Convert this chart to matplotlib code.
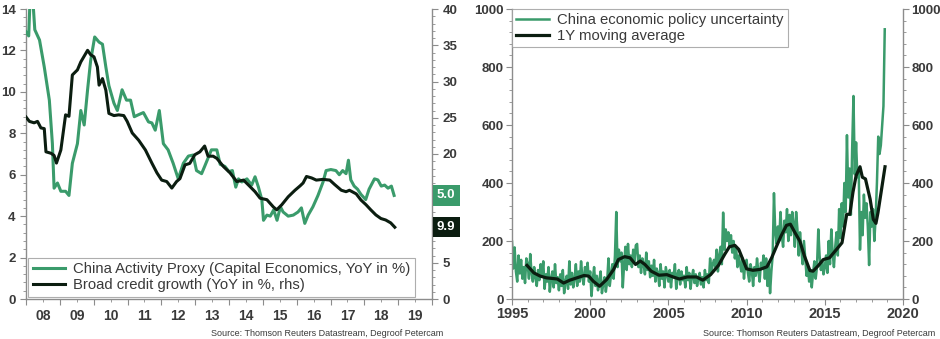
import numpy as np
import matplotlib
matplotlib.use("Agg")
import matplotlib.pyplot as plt
from matplotlib.ticker import MultipleLocator, FixedLocator, NullFormatter
import matplotlib.transforms as mtransforms

plt.rcParams['font.family'] = ['Liberation Sans', 'DejaVu Sans']

GREEN = '#3a9b6b'
DARK = '#0b1d10'
GREY = '#8c8c8c'
TXT = '#3a3a3a'

# ---- left panel: China activity proxy (lhs) vs broad credit growth (rhs) ----
proxy_t = [2008.0, 2008.08, 2008.12, 2008.2, 2008.26, 2008.4, 2008.54, 2008.69, 2008.78, 2008.83,
           2008.93, 2009.03, 2009.17, 2009.27, 2009.37, 2009.52, 2009.62, 2009.72, 2009.82, 2009.91,
           2010.03, 2010.16, 2010.26, 2010.36, 2010.45, 2010.6, 2010.7, 2010.84, 2010.97, 2011.09,
           2011.2, 2011.33, 2011.47, 2011.62, 2011.72, 2011.82, 2011.94, 2012.06, 2012.2, 2012.35,
           2012.5, 2012.65, 2012.8, 2012.94, 2013.04, 2013.19, 2013.28, 2013.48, 2013.64, 2013.74,
           2013.88, 2014.0, 2014.1, 2014.2, 2014.28, 2014.38, 2014.53, 2014.67, 2014.77, 2014.87,
           2014.97, 2015.02, 2015.12, 2015.22, 2015.32, 2015.42, 2015.52, 2015.6, 2015.75, 2015.9,
           2016.04, 2016.14, 2016.24, 2016.34, 2016.48, 2016.63, 2016.78, 2016.87, 2017.01, 2017.16,
           2017.26, 2017.36, 2017.46, 2017.53, 2017.6, 2017.7, 2017.8, 2017.9, 2018.04, 2018.14,
           2018.3, 2018.4, 2018.5, 2018.6, 2018.7, 2018.8, 2018.88]
proxy_v = [12.9, 12.7, 14.5, 14.5, 13.0, 12.5, 11.2, 9.6, 7.5, 5.35,
           5.6, 5.2, 5.2, 5.0, 6.55, 7.5, 9.1, 8.4, 10.1, 11.5,
           12.65, 12.4, 12.3, 11.2, 10.3, 9.45, 9.1, 10.1, 9.6, 9.6,
           8.8, 8.9, 9.0, 8.55, 8.5, 8.15, 9.1, 7.5, 7.2, 6.55,
           5.8, 6.55, 6.9, 6.95, 6.2, 6.05, 6.4, 7.2, 7.2, 6.5,
           6.4, 6.15, 6.2, 5.4, 5.8, 5.65, 5.8, 5.5, 5.9, 5.4,
           4.8, 3.8, 4.05, 4.0, 4.3, 3.8, 4.45, 4.2, 4.0, 4.05,
           4.2, 4.4, 3.65, 4.05, 4.45, 5.0, 5.65, 6.2, 6.25, 6.2,
           6.0, 6.2, 6.05, 6.7, 5.75, 5.45, 5.3, 5.05, 4.8, 5.3,
           5.8, 5.75, 5.45, 5.5, 5.35, 5.45, 5.0]

credit_t = [2008.0, 2008.1, 2008.24, 2008.34, 2008.44, 2008.54, 2008.59, 2008.74, 2008.83, 2008.9,
            2009.03, 2009.17, 2009.27, 2009.37, 2009.52, 2009.62, 2009.72, 2009.82, 2009.91, 2010.01,
            2010.11, 2010.16, 2010.26, 2010.36, 2010.45, 2010.6, 2010.74, 2010.89, 2010.99, 2011.14,
            2011.33, 2011.53, 2011.72, 2011.87, 2012.01, 2012.16, 2012.31, 2012.45, 2012.55, 2012.7,
            2012.84, 2012.99, 2013.14, 2013.28, 2013.38, 2013.53, 2013.64, 2013.84, 2014.03, 2014.23,
            2014.43, 2014.58, 2014.77, 2014.92, 2015.12, 2015.31, 2015.41, 2015.56, 2015.75, 2015.95,
            2016.1, 2016.19, 2016.29, 2016.44, 2016.58, 2016.78, 2016.98, 2017.12, 2017.32, 2017.46,
            2017.56, 2017.76, 2017.9, 2018.05, 2018.19, 2018.34, 2018.49, 2018.63, 2018.78, 2018.9]
credit_v = [25.1, 24.5, 24.3, 24.5, 23.6, 23.5, 20.3, 20.1, 19.8, 18.75,
            20.55, 25.4, 25.2, 30.9, 31.6, 32.7, 33.5, 34.3, 33.7, 33.4,
            32.0, 29.5, 30.4, 28.8, 25.6, 25.3, 25.4, 25.3, 24.5, 22.9,
            21.9, 20.55, 18.75, 17.4, 16.4, 16.2, 15.3, 16.2, 16.6, 18.5,
            18.7, 19.9, 20.3, 21.1, 19.7, 19.7, 19.4, 18.25, 17.4, 16.2,
            16.4, 15.7, 14.8, 13.9, 13.7, 12.7, 12.3, 13.0, 14.1, 15.0,
            15.6, 16.0, 16.9, 16.7, 16.4, 16.5, 16.4, 15.8, 15.0, 14.8,
            15.0, 14.5, 13.65, 13.0, 12.3, 11.6, 11.1, 10.9, 10.5, 9.9]

year_labels = ['08', '09', '10', '11', '12', '13', '14', '15', '16', '17', '18', '19']

# ---- right panel: China EPU index, monthly Jan 1995 - Nov 2018 ----
epu = [
    198, 105, 178, 95, 60, 150, 88, 135, 70, 110, 55, 140,      # 1995
    120, 70, 155, 90, 60, 110, 75, 45, 100, 65, 120, 80,        # 1996
    130, 35, 85, 60, 110, 25, 70, 95, 40, 120, 55, 75,          # 1997
    30, 85, 45, 100, 20, 60, 80, 35, 130, 50, 90, 40,           # 1998
    70, 120, 45, 95, 60, 130, 75, 50, 110, 85, 125, 60,         # 1999
    95, 10, 70, 110, 45, 80, 30, 65, 95, 20, 50, 75,            # 2000
    25, 60, 140, 45, 85, 120, 70, 150, 300, 110, 170, 130,      # 2001
    160, 40, 120, 180, 100, 190, 120, 150, 110, 170, 130, 185,  # 2002
    190, 110, 150, 90, 140, 120, 85, 160, 100, 130, 75, 115,    # 2003
    80, 135, 60, 105, 90, 45, 120, 70, 95, 40, 110, 85,         # 2004
    60, 100, 40, 90, 75, 120, 35, 85, 100, 50, 95, 65,          # 2005
    80, 40, 110, 65, 90, 35, 75, 100, 55, 85, 45, 70,           # 2006
    90, 50, 75, 40, 100, 65, 85, 55, 140, 90, 120, 135,         # 2007
    110, 170, 95, 150, 180, 120, 298, 170, 240, 200, 230, 180,  # 2008
    220, 160, 200, 140, 175, 110, 150, 120, 95, 140, 70, 125,   # 2009
    135, 90, 60, 120, 100, 45, 110, 80, 140, 95, 60, 125,       # 2010
    105, 150, 70, 140, 45, 120, 20, 95, 150, 365, 230, 190,     # 2011
    250, 200, 300, 220, 180, 270, 230, 310, 200, 290, 220, 300, # 2012
    260, 180, 300, 240, 150, 230, 170, 120, 200, 140, 80, 110,  # 2013
    60, 100, 40, 90, 130, 70, 110, 240, 150, 100, 130, 85,      # 2014
    110, 150, 90, 200, 120, 240, 160, 110, 180, 230, 150, 310,  # 2015
    210, 330, 250, 400, 300, 565, 350, 450, 290, 520, 700, 430, # 2016
    540, 420, 450, 170, 300, 220, 360, 280, 330, 250, 117, 300, # 2017
    250, 310, 200, 280, 400, 560, 500, 530, 600, 665, 930,      # 2018
]

ma_t = [1995.96, 1996.4, 1996.8, 1997.2, 1997.9, 1998.3, 1998.7, 1999.15, 1999.6, 1999.9,
        2000.2, 2000.6, 2001.05, 2001.5, 2001.8, 2002.2, 2002.55, 2002.9, 2003.2, 2003.5,
        2003.9, 2004.4, 2004.9, 2005.3, 2005.7, 2006.2, 2006.8, 2007.2, 2007.7, 2008.2,
        2008.6, 2008.9, 2009.25, 2009.5, 2009.8, 2010.0, 2010.4, 2010.85, 2011.3, 2011.6,
        2011.9, 2012.2, 2012.55, 2012.8, 2013.1, 2013.4, 2013.7, 2014.05, 2014.25, 2014.6,
        2014.9, 2015.3, 2015.75, 2016.1, 2016.4, 2016.6, 2016.8, 2017.0, 2017.25, 2017.4,
        2017.6, 2017.9, 2018.1, 2018.27, 2018.4, 2018.6, 2018.85]
ma_v = [116, 90, 79, 73, 69, 55, 65, 73, 81, 79,
        61, 44, 67, 102, 136, 146, 142, 119, 131, 119,
        96, 82, 84, 76, 69, 76, 76, 65, 84, 116,
        154, 180, 185, 171, 131, 104, 99, 102, 111, 142,
        180, 217, 254, 258, 228, 200, 148, 98, 96, 116,
        136, 142, 171, 194, 292, 292, 368, 425, 456, 420,
        414, 344, 275, 261, 298, 368, 456]

fig = plt.figure(figsize=(9.4, 3.39), dpi=100)


def style_axis(ax):
    ax.spines['top'].set_visible(False)
    for s in ('left', 'right', 'bottom'):
        ax.spines[s].set_color(GREY)
        ax.spines[s].set_linewidth(1.0)
    ax.tick_params(which='both', colors=GREY, labelcolor=TXT, direction='out')
    ax.tick_params(which='major', length=4, labelsize=9.5)
    ax.tick_params(which='minor', length=2)
    for lab in ax.get_xticklabels() + ax.get_yticklabels():
        lab.set_fontweight('bold')


# left panel
ax1 = fig.add_axes([26 / 940, 1 - 299 / 339, 406 / 940, 290 / 339])
ax1b = ax1.twinx()
l1, = ax1.plot(proxy_t, proxy_v, color=GREEN, lw=2.2, zorder=3)
l2, = ax1b.plot(credit_t, credit_v, color=DARK, lw=2.2, zorder=3)
ax1.set_xlim(2008, 2020)
ax1.set_ylim(0, 14)
ax1b.set_ylim(0, 40)
ax1.yaxis.set_major_locator(MultipleLocator(2))
ax1.yaxis.set_minor_locator(MultipleLocator(0.4))
ax1b.yaxis.set_major_locator(MultipleLocator(5))
ax1b.yaxis.set_minor_locator(MultipleLocator(1))
ax1.xaxis.set_major_locator(MultipleLocator(1))
ax1.xaxis.set_major_formatter(NullFormatter())
ax1.xaxis.set_minor_locator(FixedLocator(np.arange(2008.5, 2020, 1)))
ax1.set_xticklabels(year_labels, minor=True)
ax1.tick_params(axis='x', which='minor', length=0, pad=5)
for a in (ax1, ax1b):
    style_axis(a)
ax1b.spines['left'].set_visible(False)
ax1b.spines['bottom'].set_visible(False)
ax1.spines['right'].set_visible(False)
for lab in ax1.get_xticklabels(minor=True):
    lab.set_fontweight('bold')
    lab.set_fontsize(10)

leg1 = ax1b.legend([l1, l2], ['China Activity Proxy (Capital Economics, YoY in %)',
                               'Broad credit growth (YoY in %, rhs)'],
                   loc='lower left', bbox_to_anchor=(0.0, 0.0), borderaxespad=0.15,
                   fontsize=10.7, frameon=True, fancybox=False, handlelength=2.2,
                   handletextpad=0.5, labelspacing=0.15, borderpad=0.3)
leg1.get_frame().set_edgecolor('#9a9a9a')
leg1.get_frame().set_linewidth(0.8)
for t in leg1.get_texts():
    t.set_color(TXT)

# end-of-series value tags on the right axis, drawn over the rhs tick labels
tr1 = mtransforms.blended_transform_factory(ax1b.transAxes, ax1.transData)
tr1b = mtransforms.blended_transform_factory(ax1b.transAxes, ax1b.transData)
tag = dict(ha='left', va='center', color='white', fontsize=9.5, fontweight='bold',
           zorder=10, clip_on=False)
ax1b.text(1.012, proxy_v[-1], f'{proxy_v[-1]:.1f}', transform=tr1,
          bbox=dict(boxstyle='square,pad=0.32', fc=GREEN, ec='none'), **tag)
ax1b.text(1.012, credit_v[-1], f'{credit_v[-1]:.1f}', transform=tr1b,
          bbox=dict(boxstyle='square,pad=0.32', fc=DARK, ec='none'), **tag)

# right panel
ax2 = fig.add_axes([512 / 940, 1 - 299 / 339, 391 / 940, 290 / 339])
epu_t = 1995 + np.arange(len(epu)) / 12
r1, = ax2.plot(epu_t, epu, color=GREEN, lw=1.8, zorder=2)
r2, = ax2.plot(ma_t, ma_v, color=DARK, lw=2.3, zorder=3)
ax2.set_xlim(1995, 2020)
ax2.set_ylim(0, 1000)
ax2.xaxis.set_major_locator(MultipleLocator(5))
ax2.xaxis.set_minor_locator(MultipleLocator(1))
ax2.yaxis.set_major_locator(MultipleLocator(200))
ax2.yaxis.set_minor_locator(MultipleLocator(40))
style_axis(ax2)
ax2.tick_params(axis='y', which='both', right=True, labelright=True, pad=2)
ax2.tick_params(axis='x', labelsize=10.5, pad=2)
for lab in ax2.get_xticklabels() + ax2.get_yticklabels():
    lab.set_fontweight('bold')

leg2 = ax2.legend([r1, r2], ['China economic policy uncertainty', '1Y moving average'],
                  loc='upper left', bbox_to_anchor=(0.0, 1.0), borderaxespad=0.0,
                  fontsize=10.7, frameon=True, fancybox=False, handlelength=2.2,
                  handletextpad=0.5, labelspacing=0.1, borderpad=0.3)
leg2.get_frame().set_edgecolor('#9a9a9a')
leg2.get_frame().set_linewidth(0.8)
for t in leg2.get_texts():
    t.set_color(TXT)

src = 'Source: Thomson Reuters Datastream, Degroof Petercam'
fig.text(443 / 940, 1 - 333 / 339, src, ha='right', va='center', fontsize=6.5,
         color=TXT, family=['Liberation Sans Narrow', 'Liberation Sans'])
fig.text(935 / 940, 1 - 333 / 339, src, ha='right', va='center', fontsize=6.5,
         color=TXT, family=['Liberation Sans Narrow', 'Liberation Sans'])

fig.savefig('out.png', dpi=100)
